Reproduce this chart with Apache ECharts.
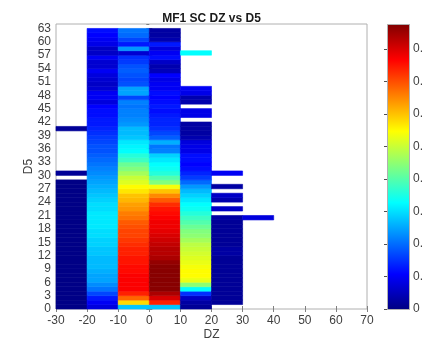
<!DOCTYPE html>
<html>
<head>
<meta charset="utf-8">
<script src="https://cdn.jsdelivr.net/npm/echarts@6/dist/echarts.min.js"></script>
<style>
html,body{margin:0;padding:0;background:#fff;}
#chart{width:423px;height:340px;}
</style>
</head>
<body>
<div id="chart"></div>
<script>
// DZ bin starts (bin width 10) and D5 rows 0..62 (height 1)
const dzBins = [-30, -20, -10, 0, 10, 20, 30];
const dzBinWidth = 10;
const d5BinHeight = 1;
const colorbarTicks = [0, 0.1, 0.2, 0.3, 0.4, 0.5, 0.6, 0.7, 0.8];
const vMax = 0.877;
const N = null;

// values per D5 row (index = row 0..62), null = empty
const colM30 = [0.005,0.005,0.005,0.005,0.005,0.005,0.005,0.005,0.005,0.005,
  0.005,0.005,0.005,0.005,0.005,0.005,0.005,0.005,0.005,0.005,
  0.005,0.005,0.005,0.005,0.005,0.005,0.005,0.005,0.005,N,
  0.02,N,N,N,N,N,N,N,N,N,
  0.02,N,N,N,N,N,N,N,N,N,
  N,N,N,N,N,N,N,N,N,N,
  N,N,N];
const colM20 = [0.08,0.10,0.13,0.17,0.21,0.23,0.25,0.25,0.26,0.27,
  0.27,0.27,0.28,0.28,0.29,0.29,0.30,0.30,0.31,0.31,
  0.31,0.31,0.30,0.30,0.29,0.28,0.27,0.26,0.25,0.24,
  0.23,0.22,0.21,0.20,0.19,0.18,0.18,0.17,0.16,0.15,
  0.14,0.13,0.13,0.12,0.12,0.11,0.08,0.10,0.10,0.07,
  0.06,0.07,0.08,0.10,0.07,0.07,0.10,0.06,0.06,0.09,
  0.10,0.11,0.12];
const colM10 = [0.28,0.58,0.68,0.74,0.77,0.77,0.77,0.77,0.76,0.76,
  0.75,0.75,0.74,0.74,0.73,0.72,0.71,0.71,0.70,0.69,
  0.67,0.66,0.64,0.63,0.61,0.60,0.57,0.55,0.52,0.50,
  0.47,0.44,0.42,0.38,0.36,0.33,0.32,0.31,0.28,0.27,
  0.27,0.24,0.23,0.22,0.22,0.21,0.22,0.17,0.25,0.25,
  0.18,0.17,0.18,0.19,0.18,0.16,0.15,0.07,0.24,0.13,
  0.17,0.20,0.21];
const col0 = [0.28,0.74,0.80,0.84,0.87,0.87,0.87,0.87,0.87,0.87,
  0.86,0.84,0.83,0.83,0.82,0.81,0.80,0.79,0.78,0.78,
  0.77,0.76,0.75,0.73,0.69,0.65,0.60,0.54,0.44,0.40,
  0.36,0.34,0.33,0.31,0.29,0.22,0.21,0.26,0.19,0.17,
  0.15,0.14,0.14,0.13,0.12,0.13,0.12,0.11,0.12,0.10,
  0.10,0.09,0.11,0.05,0.04,0.06,0.12,0.10,0.08,0.13,
  0.04,0.03,0.03];
const col10 = [0.02,0.03,0.06,0.15,0.33,0.45,0.53,0.55,0.55,0.54,
  0.53,0.52,0.51,0.50,0.49,0.47,0.45,0.44,0.42,0.40,
  0.38,0.36,0.34,0.33,0.31,0.29,0.27,0.24,0.20,0.16,
  0.14,0.12,0.11,0.12,0.12,0.09,0.09,0.08,0.04,0.03,
  0.03,0.03,N,0.09,0.09,N,0.04,0.04,0.09,0.10,
  N,N,N,N,N,N,N,0.33,N,N,
  N,N,N];
const col20 = [N,0.02,0.02,0.02,0.02,0.02,0.02,0.02,0.02,0.02,
  0.02,0.02,0.03,0.03,0.02,0.02,0.02,0.02,0.02,0.02,
  0.03,N,0.06,N,0.04,0.06,N,0.03,N,N,
  0.10,N,N,N,N,N,N,N,N,N,
  N,N,N,N,N,N,N,N,N,N,
  N,N,N,N,N,N,N,N,N,N,
  N,N,N];
const col30 = [N,N,N,N,N,N,N,N,N,N,
  N,N,N,N,N,N,N,N,N,N,
  0.08,N,N,N,N,N,N,N,N,N,
  N,N,N,N,N,N,N,N,N,N,
  N,N,N,N,N,N,N,N,N,N,
  N,N,N,N,N,N,N,N,N,N,
  N,N,N];

const columns = [colM30, colM20, colM10, col0, col10, col20, col30];
const cells = [];
columns.forEach((col, ci) => {
  col.forEach((v, row) => {
    if (v !== null) cells.push([dzBins[ci], row, v]);
  });
});

const jet = ['#000080','#0000ff','#0080ff','#00ffff','#80ff80','#ffff00','#ff8000','#ff0000','#800000'];
const txt = '#404040';
const lineCol = '#b0b0b0';
const FONT = 'Liberation Sans';

const chart = echarts.init(document.getElementById('chart'));
chart.setOption({
  animation: false,
  backgroundColor: '#ffffff',
  title: {
    text: 'MF1 SC DZ vs D5', left: 'center', top: 8,
    textStyle: { fontFamily: FONT, fontSize: 12, fontWeight: 'bold', color: '#1a1a1a' }
  },
  grid: [
    { left: 56, top: 24, width: 311, height: 285, show: true, borderColor: lineCol, borderWidth: 1,
      backgroundColor: '#fff', containLabel: false, outerBoundsMode: 'none' },
    { left: 387, top: 24, width: 22, height: 285, show: false, containLabel: false, outerBoundsMode: 'none' }
  ],
  xAxis: [
    { type: 'value', gridIndex: 0, min: -30, max: 70, interval: 10,
      name: 'DZ', nameLocation: 'middle', nameGap: 20, nameMoveOverlap: false,
      nameTextStyle: { fontFamily: FONT, fontSize: 12, color: txt },
      axisLine: { show: false }, splitLine: { show: false },
      axisTick: { show: true, inside: true, length: 3, lineStyle: { color: '#808080' } },
      axisLabel: { fontFamily: FONT, fontSize: 12, color: txt, margin: 6 } },
    { type: 'value', gridIndex: 0, position: 'top', min: -30, max: 70, interval: 10,
      axisLine: { show: false }, splitLine: { show: false }, axisLabel: { show: false },
      axisTick: { show: true, inside: true, length: 3, lineStyle: { color: '#808080' } } },
    { type: 'value', gridIndex: 1, min: 0, max: 1, show: false }
  ],
  yAxis: [
    { type: 'value', gridIndex: 0, min: 0, max: 64, interval: 3,
      name: 'D5', nameLocation: 'middle', nameGap: 21, nameRotate: 90, nameMoveOverlap: false,
      nameTextStyle: { fontFamily: FONT, fontSize: 12, color: txt },
      axisLine: { show: false }, splitLine: { show: false },
      axisTick: { show: true, inside: true, length: 3, lineStyle: { color: '#808080' } },
      axisLabel: { fontFamily: FONT, fontSize: 12, color: txt, margin: 5, showMaxLabel: false } },
    { type: 'value', gridIndex: 0, position: 'right', min: 0, max: 64, interval: 3,
      axisLine: { show: false }, splitLine: { show: false }, axisLabel: { show: false },
      axisTick: { show: true, inside: true, length: 3, lineStyle: { color: '#808080' } } },
    { type: 'value', gridIndex: 1, position: 'right', min: 0, max: vMax, interval: 0.1,
      axisLine: { show: false }, splitLine: { show: false },
      axisTick: { show: true, inside: true, length: 3, lineStyle: { color: '#505050' } },
      axisLabel: { fontFamily: FONT, fontSize: 12, color: txt, margin: 4, showMaxLabel: false,
        formatter: v => colorbarTicks.some(t => Math.abs(t - v) < 1e-6) ? String(Math.round(v * 10) / 10) : '' },
      z: 10 }
  ],
  visualMap: {
    type: 'continuous', show: false, min: 0, max: vMax, seriesIndex: 0, dimension: 2,
    inRange: { color: jet }
  },
  series: [
    {
      type: 'custom', xAxisIndex: 0, yAxisIndex: 0,
      data: cells,
      encode: { x: 0, y: 1 },
      renderItem: function (params, api) {
        const x0 = api.value(0), y0 = api.value(1);
        const p1 = api.coord([x0, y0 + d5BinHeight]);
        const p2 = api.coord([x0 + dzBinWidth, y0]);
        const c = api.visual('color');
        return {
          type: 'rect',
          shape: { x: p1[0], y: p1[1], width: p2[0] - p1[0], height: p2[1] - p1[1] },
          style: { fill: c, stroke: c, lineWidth: 0.6 }
        };
      }
    },
    {
      type: 'line', xAxisIndex: 2, yAxisIndex: 2, data: [], silent: true
    }
  ],
  graphic: [
    { type: 'rect', left: 387, top: 24, z: 1,
      shape: { width: 22, height: 285 },
      style: {
        fill: new echarts.graphic.LinearGradient(0, 1, 0, 0,
          jet.map((c, i) => ({ offset: i / (jet.length - 1), color: c }))),
        stroke: lineCol, lineWidth: 1
      } }
  ]
});
</script>
</body>
</html>
